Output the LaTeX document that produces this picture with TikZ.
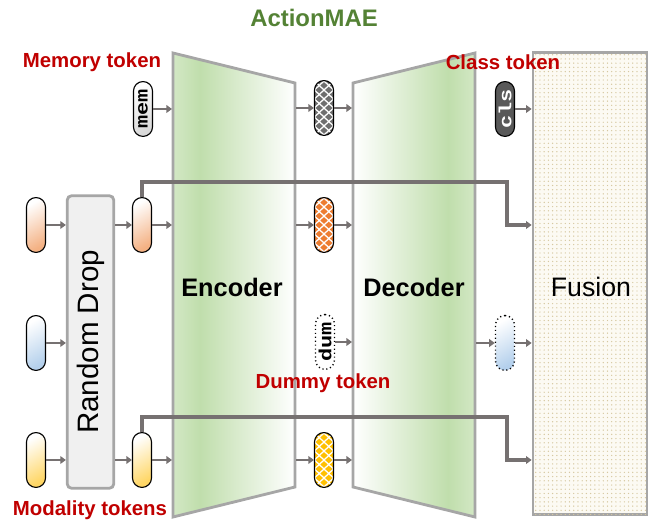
\documentclass[tikz,border=0pt]{standalone}
\usepackage{fontspec}
\setmainfont{Liberation Sans}
\setmonofont{Liberation Mono}
\usetikzlibrary{arrows.meta, patterns, positioning}

\definecolor{lblred}{RGB}{192,0,0}
\definecolor{ttlgreen}{RGB}{84,130,53}
\definecolor{arrgray}{RGB}{118,113,113}
\definecolor{edgegray}{RGB}{166,166,166}
\definecolor{encgreen}{RGB}{192,222,172}
\definecolor{tokorange}{RGB}{244,177,131}
\definecolor{tokblue}{RGB}{180,208,236}
\definecolor{tokyellow}{RGB}{255,214,100}
\definecolor{chkorange}{RGB}{237,125,49}
\definecolor{chkyellow}{RGB}{255,192,0}
\definecolor{chkgray}{RGB}{110,110,110}
\definecolor{clsgray}{RGB}{89,89,89}
\definecolor{fusebg}{RGB}{252,250,243}
\definecolor{fusedot}{RGB}{214,200,160}

\pgfdeclarehorizontalshading{encshade}{100bp}{color(0bp)=(encgreen!70); color(25bp)=(encgreen!70); color(36bp)=(encgreen); color(75bp)=(white); color(100bp)=(white)}
\pgfdeclarehorizontalshading{decshade}{100bp}{color(0bp)=(white); color(25bp)=(white); color(64bp)=(encgreen); color(75bp)=(encgreen!70); color(100bp)=(encgreen!70)}

\begin{document}
\begin{tikzpicture}[x=0.025cm, y=-0.025cm,
  tok/.style={draw=black, line width=0.8pt, rounded corners=6.7pt, minimum width=13.5pt, minimum height=39pt, inner sep=0pt},
  chk/.style={tok, fill=white, path picture={
    \begin{scope}[shift={(path picture bounding box.center)}, sharp corners]
      \foreach \r in {-7,...,7} \foreach \c in {-2,...,2}
        \fill[#1] ({(2*\c+1-mod(abs(\r),2))*3.4pt},{\r*3.2pt}) +(-2.6pt,0) -- +(0,2.4pt) -- +(2.6pt,0) -- +(0,-2.4pt) -- cycle;
    \end{scope}}},
  arr/.style={draw=arrgray, line width=1.8pt, -{Triangle[length=4pt,width=5.5pt]}},
  edge/.style={draw=edgegray, line width=2pt},
  lbl/.style={text=lblred, font=\fontsize{14.5}{16}\selectfont\bfseries},
  tt/.style={font=\fontsize{12.5}{12.5}\selectfont\ttfamily\bfseries}]

\useasboundingbox (0,0) rectangle (667,523);

\node[text=ttlgreen, font=\fontsize{17}{19}\selectfont\bfseries] (title) at (314,18) {ActionMAE};

% encoder and decoder
\shade[shading=encshade] (173,53) -- (295,83) -- (295,487) -- (173,517) -- cycle;
\draw[edge] (173,53) -- (295,83) -- (295,487) -- (173,517) -- cycle;
\shade[shading=decshade] (353,83) -- (475,53) -- (475,517) -- (353,487) -- cycle;
\draw[edge] (353,83) -- (475,53) -- (475,517) -- (353,487) -- cycle;
\coordinate (encL) at (172,0);
\coordinate (encR) at (296,0);
\coordinate (decL) at (352,0);
\coordinate (decR) at (476,0);
\node[font=\fontsize{18}{20}\selectfont\bfseries] (enc) at (232,287) {Encoder};
\node[font=\fontsize{18}{20}\selectfont\bfseries] (dec) at (414,287) {Decoder};

% fusion
\node[edge, fill=fusebg, postaction={pattern=dots, pattern color=fusedot}, minimum width=81pt, minimum height=329pt] (fus) at (590,283.5) {};
\node[font=\fontsize{19}{21}\selectfont] (fustext) at (591,287) {Fusion};

% random drop
\node[edge, fill=black!6, rounded corners=3pt, minimum width=33pt, minimum height=208pt] (rd) at (90.5,342) {\rotatebox{90}{\fontsize{21}{23}\selectfont Random Drop}};

% tokens
\node[tok, top color=white, bottom color=tokorange, shading angle=30] (o1) at (36,225) {};
\node[tok, top color=white, bottom color=tokblue, shading angle=30] (b1) at (36,343) {};
\node[tok, top color=white, bottom color=tokyellow, shading angle=30] (y1) at (36,460) {};
\node[tok, top color=white, bottom color=tokorange, shading angle=30] (o2) at (142,225) {};
\node[tok, top color=white, bottom color=tokyellow, shading angle=30] (y2) at (142,460) {};
\node[tok, tt, top color=white, bottom color=black!15, shading angle=30] (mem) at (143,109) {\rotatebox{90}{\scalebox{1.25}[1]{mem}}};
\node[chk=chkgray] (mg) at (324,108) {};
\node[chk=chkorange] (mo) at (324,225) {};
\node[tok, tt, dotted, line width=1pt, fill=white] (md) at (325,342) {\rotatebox{90}{\scalebox{1.25}[1]{dum}}};
\node[chk=chkyellow] (my) at (324,460) {};
\node[tok, tt, fill=clsgray, text=white] (cls) at (505,109) {\rotatebox{90}{\scalebox{1.25}[1]{cls}}};
\node[tok, dotted, line width=1pt, top color=white, bottom color=tokblue, shading angle=30] (bf) at (505,343) {};

% labels
\node[lbl] (memlbl) at (92,62) {Memory token};
\node[lbl] (clslbl) at (503,62) {Class token};
\node[lbl] (dumlbl) at (323,383) {Dummy token};
\node[lbl] (modlbl) at (90,510) {Modality tokens};

% arrows
\draw[arr] (o1.east) -- (o1.east -| rd.west);
\draw[arr] (b1.east) -- (b1.east -| rd.west);
\draw[arr] (y1.east) -- (y1.east -| rd.west);
\draw[arr] (rd.east |- o2.west) -- (o2.west);
\draw[arr] (rd.east |- y2.west) -- (y2.west);
\draw[arr] (mem.east) -- (mem.east -| encL);
\draw[arr] (o2.east) -- (o2.east -| encL);
\draw[arr] (y2.east) -- (y2.east -| encL);
\draw[arr] (encR |- mg.west) -- (mg.west);
\draw[arr] (encR |- mo.west) -- (mo.west);
\draw[arr] (encR |- my.west) -- (my.west);
\draw[arr] (mg.east) -- (mg.east -| decL);
\draw[arr] (mo.east) -- (mo.east -| decL);
\draw[arr] (md.east) -- (md.east -| decL);
\draw[arr] (my.east) -- (my.east -| decL);
\draw[arr] (decR |- bf.west) -- (bf.west);
\draw[arr] (cls.east) -- (cls.east -| fus.west);
\draw[arr] (bf.east) -- (bf.east -| fus.west);

% skip paths
\coordinate (skA) at (507,182);
\coordinate (skB) at (507,417);
\draw[arr, line width=2.2pt] (o2.north) |- (skA) |- (fus.west |- o2.center);
\draw[arr, line width=2.2pt] (y2.north) |- (skB) |- (fus.west |- y2.center);
\end{tikzpicture}
\end{document}
